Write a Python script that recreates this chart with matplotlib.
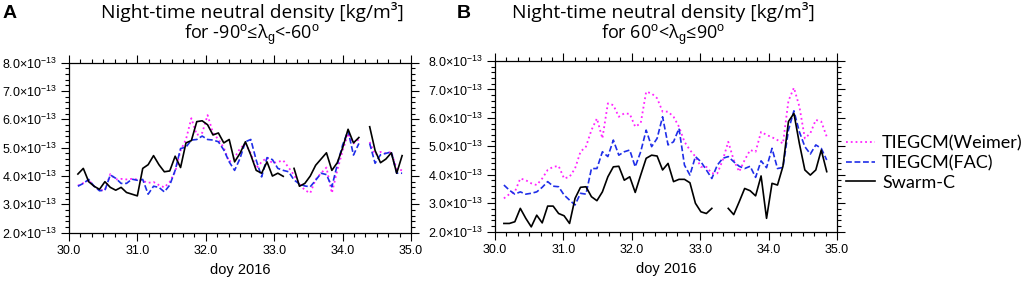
import numpy as np
import matplotlib
matplotlib.use('Agg')
import matplotlib.pyplot as plt
from matplotlib.ticker import MultipleLocator, FuncFormatter

nan = np.nan

# Panel A: -90 <= lat_g < -60  (valores en 1e-13 kg/m3)
tA = np.linspace(30.13, 34.87, 61)
swarmA = [4.07, 4.27, 3.80, 3.64, 3.53, 3.80, 3.60, 3.50, 3.60, 3.42, 3.36, 3.30,
          4.27, 4.40, 4.72, 4.40, 4.15, 4.18, 4.70, 4.30,
          5.17, 5.25, 5.92, 5.95, 5.81, 5.45, 5.52, 5.17, 5.29,
          4.50, 4.80, 5.21, 4.74, 4.20, 4.10, 4.50, 4.00, 4.10, 3.99,
          nan,
          4.27, 3.64, 3.74, 4.00, 4.38, 4.60, 4.82, 4.20, 4.47, 5.00, 5.65, 5.17, 5.36,
          nan,
          5.74, 4.90, 4.47, 4.60, 4.82, 4.10, 4.72]
weimerA = [3.66, 3.75, 3.86, 3.64, 3.50, 3.50, 4.07, 3.88, 3.90, 3.88, 3.90, 3.88,
           3.83, 3.76, 3.79, 3.68, 3.60, 3.79, 4.15, 4.90,
           5.29, 6.04, 5.45, 5.52, 6.15, 5.52, 5.29, 5.00, 4.50,
           4.65, 4.97, 5.14, 4.80, 4.27, 4.50, 4.65, 4.45, 4.50, 4.55,
           4.30,
           4.03, 3.72, 3.50, 3.40, 3.88, 4.10, 4.30, 3.40, 4.20, 4.90, 5.50, 5.15, 5.30,
           nan,
           5.20, 4.75, 4.85, 4.80, 4.85, 4.25, 4.20]
facA = [3.64, 3.74, 3.88, 3.64, 3.48, 3.50, 4.04, 3.92, 3.74, 3.74, 3.89, 3.85,
        3.88, 3.36, 3.64, 3.60, 3.44, 3.68, 4.20, 4.97,
        5.02, 5.27, 5.29, 5.41, 5.29, 5.27, 5.21, 4.92, 4.50,
        4.20, 4.62, 5.21, 5.29, 4.56, 3.97, 4.65, 4.58, 4.27, 4.20,
        4.15,
        3.86, 3.72, 3.65, 3.62, 3.85, 4.10, 4.05, 3.62, 4.40, 5.10, 5.60, 4.74, 5.15,
        nan,
        5.15, 4.45, 4.75, 4.80, 4.85, 4.10, 4.10]

# Panel B: 60 < lat_g <= 90
tB = np.linspace(30.13, 34.85, 60)
swarmB = [2.29, 2.29, 2.35, 2.82, 2.47, 2.17, 2.58, 2.31, 2.90, 2.90, 2.64, 2.56,
          2.29, 3.17, 3.56, 3.58, 3.23, 3.09, 3.40, 3.93, 4.28, 4.30, 3.81, 3.93,
          3.38, 3.99, 4.58, 4.69, 4.66, 4.17, 4.40, 3.76, 3.84, 3.84, 3.72, 3.00, 2.70, 2.64, 2.82,
          nan, nan,
          2.82, 2.60, 3.05, 3.52, 3.44, 3.26, 3.96, 2.47, 3.70, 3.64, 4.30, 5.87, 6.16, 5.10,
          4.17, 3.99, 4.17, 4.87, 4.11]
weimerB = [3.17, 3.32, 3.40, 3.87, 3.81, 3.70, 3.64, 3.87, 4.17, 4.28, 4.31, 3.87,
           3.93, 4.22, 4.81, 4.99, 5.57, 5.98, 5.28, 6.51, 6.45, 6.04, 6.16, 6.14,
           5.69, 5.81, 6.92, 6.86, 6.69, 6.22, 6.22, 6.04, 5.69, 5.16, 4.87, 4.64,
           4.28, 4.28, 4.05, 4.05, 4.52, 5.16, 4.52, 4.11, 4.52, 4.87, 4.81, 5.51,
           5.40, 5.32, 5.22, 5.10, 6.60, 7.06, 6.40, 5.28, 5.46, 5.93, 5.87, 5.34]
facB = [3.64, 3.46, 3.32, 3.40, 3.32, 3.35, 3.40, 3.56, 3.76, 3.60, 3.58, 3.29,
        3.11, 2.94, 3.35, 3.32, 4.22, 4.22, 4.81, 4.64, 5.22, 4.69, 4.81, 4.87,
        4.28, 4.81, 5.57, 4.99, 5.28, 6.04, 5.05, 5.16, 5.63, 4.34, 3.99, 4.64,
        4.46, 4.17, 3.87, 4.34, 4.58, 4.64, 4.46, 4.30, 4.22, 4.30, 3.91, 4.49,
        4.25, 4.93, 4.22, 4.26, 5.57, 6.25, 5.51, 4.99, 4.73, 5.05, 4.93, 4.52]

labels = ['TIEGCM(Weimer)', 'TIEGCM(FAC)', 'Swarm-C']

plt.rcParams['font.family'] = ['Liberation Sans', 'DejaVu Sans']
plt.rcParams['mathtext.fontset'] = 'custom'
plt.rcParams['mathtext.rm'] = 'Liberation Sans'
plt.rcParams['mathtext.it'] = 'Liberation Sans:italic'
plt.rcParams['mathtext.bf'] = 'Liberation Sans:bold'

fig = plt.figure(figsize=(10.24, 2.85), dpi=100)
axA = fig.add_axes([69/1024, 1 - 232.7/285, 342/1024, 170/285])
axB = fig.add_axes([495/1024, 1 - 231.7/285, 342/1024, 170.7/285])

fmt = FuncFormatter(lambda v, _: r'$%.1f{\times}10^{-13}$' % (v / 1e-13))

for ax, t, w, f, s in [(axA, tA, weimerA, facA, swarmA),
                       (axB, tB, weimerB, facB, swarmB)]:
    ax.plot(t, np.array(w) * 1e-13, color='#ff22ff', ls=':', lw=1.3)
    ax.plot(t, np.array(f) * 1e-13, color='#1f2ee8', ls=(0, (3.5, 1.6)), lw=1.2)
    ax.plot(t, np.array(s) * 1e-13, color='black', ls='-', lw=1.2)
    ax.set_xlim(30, 35)
    ax.set_ylim(2e-13, 8e-13)
    ax.xaxis.set_major_locator(MultipleLocator(1))
    ax.xaxis.set_minor_locator(MultipleLocator(1/6))
    ax.xaxis.set_major_formatter(FuncFormatter(lambda v, _: '%.1f' % v))
    ax.yaxis.set_major_locator(MultipleLocator(1e-13))
    ax.yaxis.set_minor_locator(MultipleLocator(0.2e-13))
    ax.yaxis.set_major_formatter(fmt)
    ax.tick_params(which='both', direction='out', top=True, right=True,
                   labelsize=9, width=0.8, pad=2.5)
    ax.tick_params(which='major', length=6)
    ax.tick_params(which='minor', length=3)
    for sp in ax.spines.values():
        sp.set_linewidth(0.9)
    ax.set_xlabel('doy 2016', fontsize=10.5, labelpad=5)

# Titulos
tfam = ['Open Sans', 'DejaVu Sans']
fig.text(252/1024, 1 - 18/285, 'Night-time neutral density [kg/m³]',
         ha='center', va='baseline', fontsize=13.8, family=tfam)
fig.text(252/1024, 1 - 39/285, r'for -90$^{\rm o}$≤λ$_{\rm g}$<-60$^{\rm o}$',
         ha='center', va='baseline', fontsize=13, family=tfam)
fig.text(663/1024, 1 - 18/285, 'Night-time neutral density [kg/m³]',
         ha='center', va='baseline', fontsize=13.8, family=tfam)
fig.text(663/1024, 1 - 39/285, r'for 60$^{\rm o}$<λ$_{\rm g}$≤90$^{\rm o}$',
         ha='center', va='baseline', fontsize=13, family=tfam)

fig.text(3/1024, 1 - 18/285, 'A', fontsize=14, fontweight='bold', va='baseline')
fig.text(457/1024, 1 - 18/285, 'B', fontsize=14, fontweight='bold', va='baseline')

# Leyenda
handles = axB.get_lines()
fig.legend(handles, labels, loc='center left', bbox_to_anchor=(846/1024, 1 - 163/285),
           frameon=False, prop={'family': ['Lato', 'DejaVu Sans'], 'size': 13},
           handlelength=1.6, handletextpad=0.4, labelspacing=0.2,
           borderpad=0, borderaxespad=0)

fig.savefig('out.png', dpi=100)
